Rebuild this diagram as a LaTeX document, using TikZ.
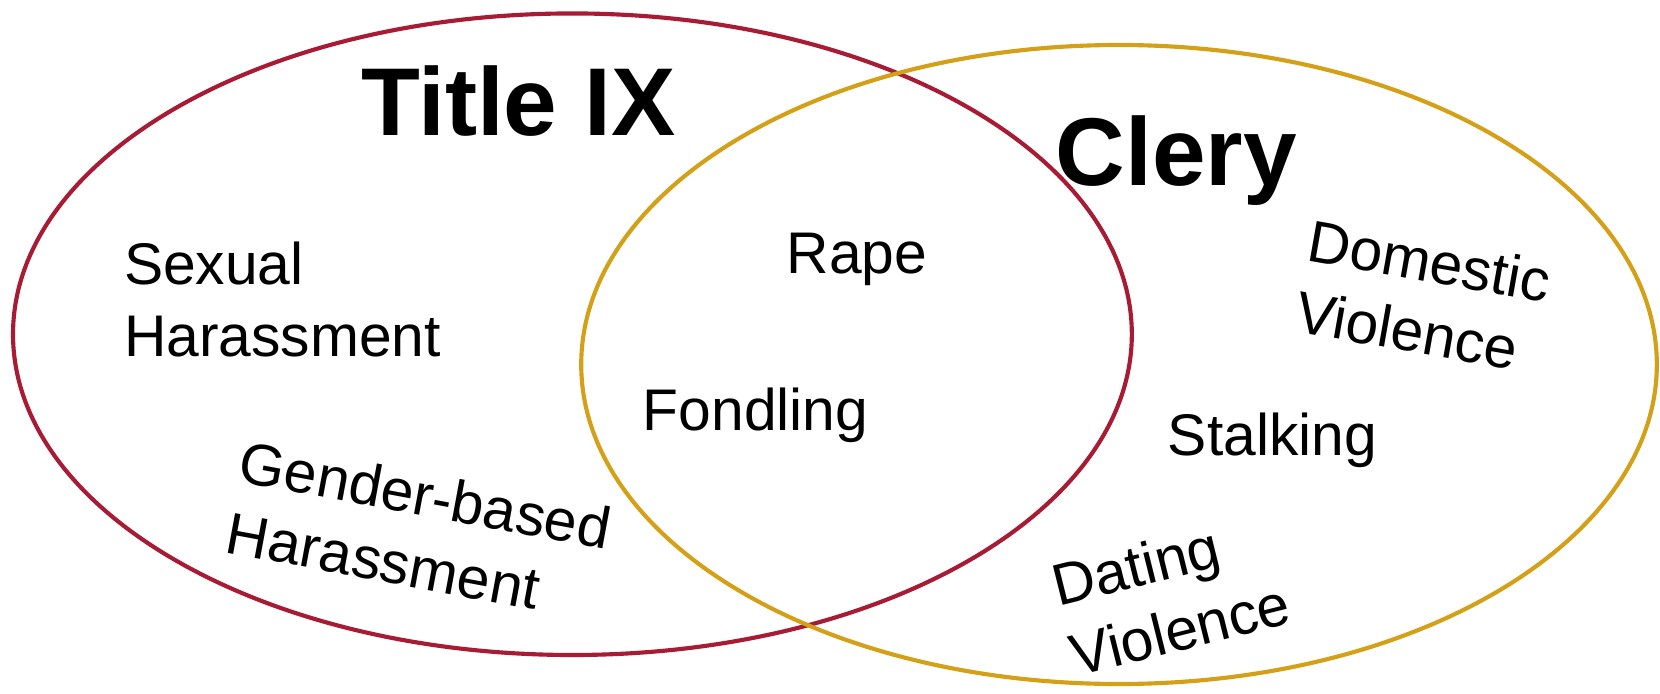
\documentclass[tikz,border=0pt]{standalone}
\usepackage{fontspec}
\setmainfont{Liberation Sans}
\definecolor{tixred}{RGB}{168,27,52}
\definecolor{clerygold}{RGB}{212,160,23}
\tikzset{
  setline/.style={line width=3.9pt},
  bigtitle/.style={inner sep=0pt, font=\fontsize{91}{100}\selectfont\bfseries},
  lbl/.style={inner sep=0pt, align=left, font=\fontsize{55.5}{68}\selectfont},
}
\begin{document}
\begin{tikzpicture}[x=1pt,y=-1pt]
\useasboundingbox (0,0) rectangle (1568,655);
\fill[white] (0,0) rectangle (1568,655);
\draw[setline, tixred] (540.7,315.7) ellipse [x radius=528.4, y radius=303];
\draw[setline, clerygold] (1057,344.3) ellipse [x radius=508, y radius=301.8];
\node[bigtitle, anchor=base west] (title) at (341,128) {Title IX};
\node[bigtitle, anchor=base west] (clery) at (997,175) {Clery};
\node[lbl, anchor=base west] (sexual) at (117,337) {Sexual\\Harassment};
\node[lbl, anchor=base west] (rape) at (743,258) {Rape};
\node[lbl, anchor=base west] (fondling) at (607,407) {Fondling};
\node[lbl, anchor=base west] (stalking) at (1103,430) {Stalking};
\node[lbl, anchor=north west, rotate=-10] (domestic) at (1240,206) {Domestic\\Violence};
\node[lbl, anchor=north west, rotate=-10.5] (gender) at (231,415) {Gender-based\\Harassment};
\node[lbl, anchor=north west, rotate=14] (dating) at (990,534) {Dating\\Violence};
\end{tikzpicture}
\end{document}
